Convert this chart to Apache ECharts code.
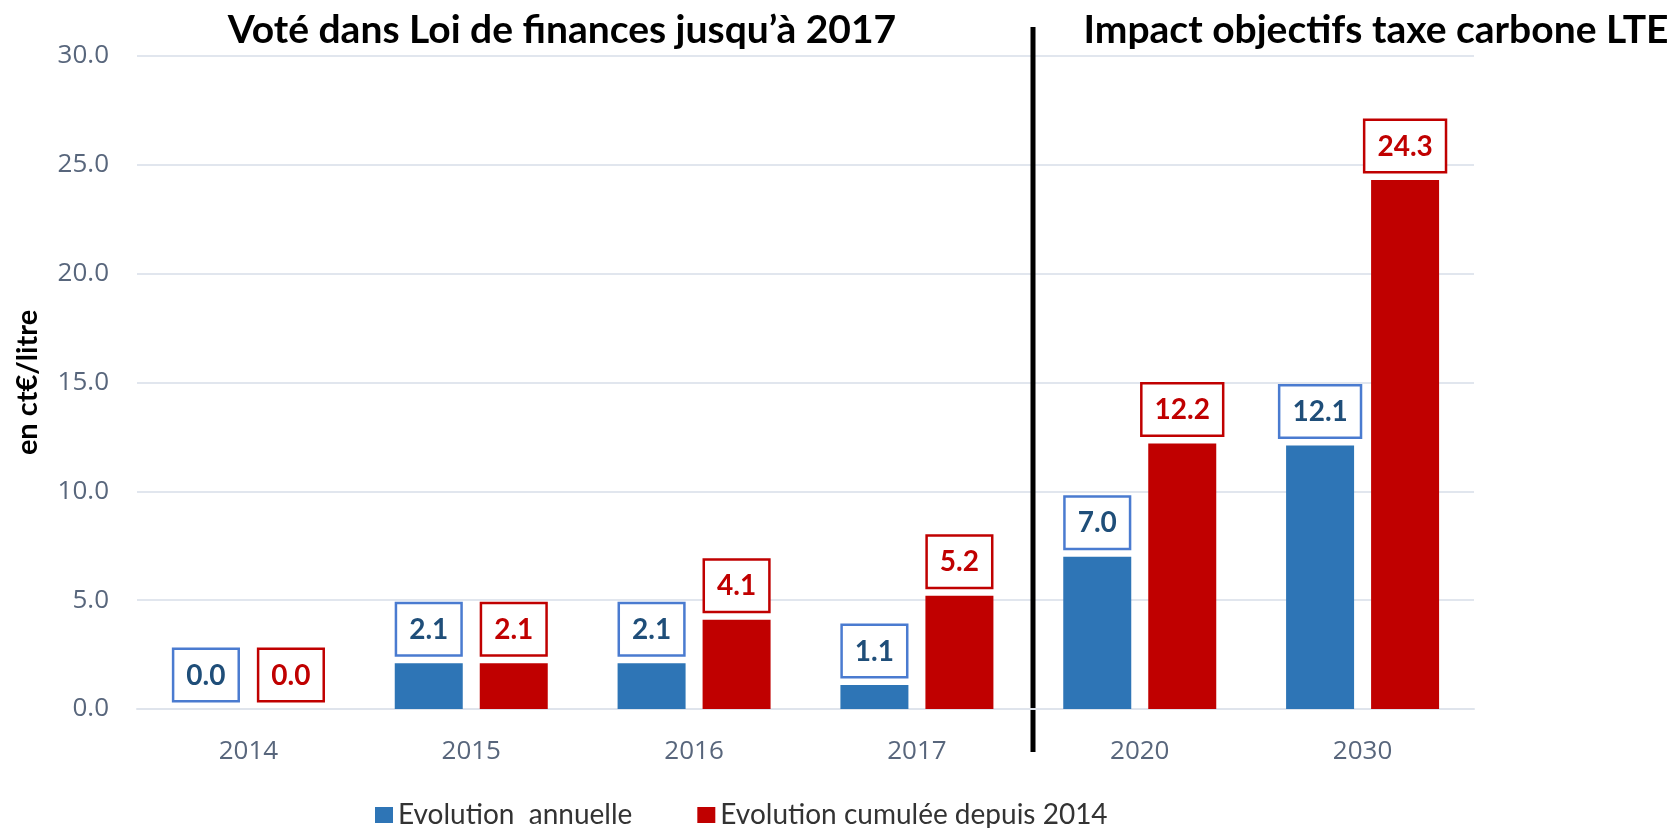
<!DOCTYPE html>
<html lang="fr">
<head>
    <meta charset="UTF-8">
    <title>Taxe carbone</title>
    <style>
        body{ margin:0; background:#fff; }
        #chart{ width:1670px; height:828px; }
    </style>
    <script src="https://cdn.jsdelivr.net/npm/echarts@6/dist/echarts.min.js"></script>
</head>
<body>
    <div id="chart"></div>
    <script>
        // valeurs (ct€/litre)
        var annees = ['2014', '2015', '2016', '2017', '2020', '2030'];
        var evolAnnuelle = [0.0, 2.1, 2.1, 1.1, 7.0, 12.1];
        var evolCumulee = [0.0, 2.1, 4.1, 5.2, 12.2, 24.3];
        var nomsSeries = ['Evolution  annuelle', 'Evolution cumulée depuis 2014'];
        var titres = ['Voté dans Loi de finances jusqu\u2019à 2017', 'Impact objectifs taxe carbone LTE'];

        var bleu = '#2E75B6', rouge = '#C00000';

        function etiquette(couleurTexte, couleurBord) {
            return {
                show: true,
                position: 'top',
                distance: 9,
                formatter: function (p) { return p.value.toFixed(1); },
                fontFamily: 'Lato',
                fontWeight: 'bold',
                fontSize: 28,
                lineHeight: 27,
                color: couleurTexte,
                backgroundColor: '#fff',
                borderColor: couleurBord,
                borderWidth: 2.5,
                padding: [12, 12, 11, 12]
            };
        }

        var chart = echarts.init(document.getElementById('chart'));
        var opt = {
            animation: false,
            title: [
                { text: titres[0], left: 557, top: 6, textAlign: 'center',
                  textStyle: { fontFamily: 'Lato', fontWeight: 'bold', fontSize: 39, color: '#000' } },
                { text: titres[1], left: 1371, top: 6, textAlign: 'center',
                  textStyle: { fontFamily: 'Lato', fontWeight: 'bold', fontSize: 39, color: '#000' } }
            ],
            legend: {
                top: 800,
                left: 375,
                padding: 0,
                itemWidth: 18,
                itemHeight: 16,
                itemGap: 65,
                icon: 'rect',
                textStyle: { fontFamily: 'Lato', fontSize: 28, lineHeight: 30, color: '#333' },
                data: nomsSeries
            },
            grid: { left: 137, right: 196, top: 56, bottom: 119 },
            xAxis: {
                type: 'category',
                data: annees,
                axisTick: { show: false },
                axisLine: { lineStyle: { color: '#dfe4ec', width: 2 } },
                axisLabel: { fontFamily: 'Open Sans', fontSize: 26, color: '#58667c', margin: 30 }
            },
            yAxis: {
                type: 'value',
                min: 0, max: 30, interval: 5,
                name: 'en ct€/litre',
                nameLocation: 'middle',
                nameGap: 95,
                nameTextStyle: { fontFamily: 'Lato', fontWeight: 'bold', fontSize: 29, color: '#000' },
                axisLabel: { fontFamily: 'Open Sans', fontSize: 26, color: '#58667c', margin: 28,
                    formatter: function (v) { return v.toFixed(1); } },
                splitLine: { lineStyle: { color: '#e1e6ee', width: 2 } }
            },
            series: [
                { name: nomsSeries[0], type: 'bar', data: evolAnnuelle, barWidth: 68, barGap: '25%',
                  itemStyle: { color: bleu }, label: etiquette('#1F4E79', '#4A7BD0') },
                { name: nomsSeries[1], type: 'bar', data: evolCumulee, barWidth: 68,
                  itemStyle: { color: rouge }, label: etiquette(rouge, rouge) }
            ]
        };
        chart.setOption(opt);

        // trait de séparation entre 2017 et 2020
        var x1 = chart.convertToPixel({ xAxisIndex: 0 }, annees[3]);
        var x2 = chart.convertToPixel({ xAxisIndex: 0 }, annees[4]);
        var xs = Math.round((x1 + x2) / 2) + 5;
        chart.setOption({
            graphic: [{
                type: 'line',
                shape: { x1: xs, y1: 27, x2: xs, y2: 752 },
                style: { stroke: '#000', lineWidth: 5 }
            }]
        });
    </script>
</body>
</html>
